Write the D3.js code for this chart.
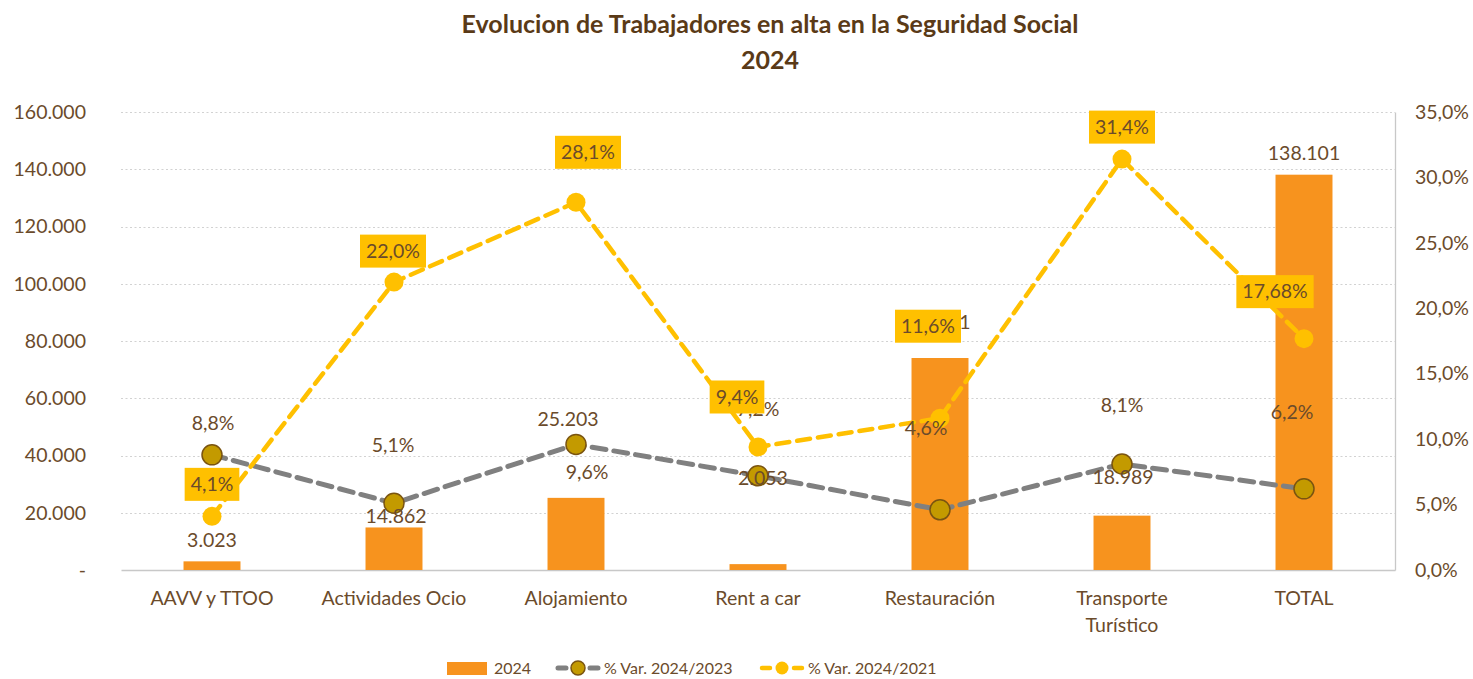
<!DOCTYPE html>
<html>
<head>
<meta charset="utf-8">
<script src="https://cdn.jsdelivr.net/npm/d3@7"></script>
<style>
  html, body { margin: 0; padding: 0; background: #ffffff; }
  svg { display: block; font-family: Lato, "Open Sans", sans-serif; }
</style>
</head>
<body>
<svg id="chart" width="1473" height="679"></svg>
<script>
// ---- data ----
const categories = ["AAVV y TTOO", "Actividades Ocio", "Alojamiento", "Rent a car", "Restauración", "Transporte Turístico", "TOTAL"];
const workers2024 = [3023, 14862, 25203, 2053, 74061, 18989, 138101];
const var2024_2023 = [0.088, 0.051, 0.096, 0.072, 0.046, 0.081, 0.062];
const var2024_2021 = [0.041, 0.220, 0.281, 0.094, 0.116, 0.314, 0.1768];
const var2024_2021Labels = ["4,1%", "22,0%", "28,1%", "9,4%", "11,6%", "31,4%", "17,68%"];
const leftTicks = [0, 20000, 40000, 60000, 80000, 100000, 120000, 140000, 160000];
const rightTicks = [0, 0.05, 0.10, 0.15, 0.20, 0.25, 0.30, 0.35];
const seriesNames = ["2024", "% Var. 2024/2023", "% Var. 2024/2021"];

// label placement (pixel offsets from each mark's anchor)
const barLabelOffset = [[0, -21], [2, -11], [-8, -79], [5, -86], [0, -36], [1, -38], [0, -22]];
const grayLabelOffset = [[1, -32], [-1, -58], [11, 28], [0, -67], [-14, -82], [0, -59], [-12, -77]];
const yellowLabelOffset = [[0, -32], [-1, -31], [12, -50], [-21, -50], [-12, -92], [0, -32], [-29, -47]];

// ---- styles ----
const textColor = "#6b4b2b";
const titleColor = "#5a3a17";
const barColor = "#f7931e";
const grayLine = "#808080";
const grayMarker = "#c39a00";
const grayMarkerStroke = "#7a5410";
const yellow = "#ffc000";

const svg = d3.select("#chart");
const plotLeft = 121, plotRight = 1395, plotTop = 112, plotBottom = 570;

const x = d3.scaleBand().domain(categories).range([plotLeft, plotRight]).padding(0);
const yL = d3.scaleLinear().domain([0, 160000]).range([plotBottom, plotTop]);
const yR = d3.scaleLinear().domain([0, 0.35]).range([plotBottom, plotTop]);
const cx = c => x(c) + x.bandwidth() / 2;
const barW = x.bandwidth() * 0.313;

const esLocale = d3.formatLocale({ decimal: ",", thousands: ".", grouping: [3], currency: ["", "€"] });
const fmtInt = v => v === 0 ? "-" : esLocale.format(",.0f")(v);
const fmtPct1 = v => esLocale.format(".1f")(v * 100) + "%";

// ---- title ----
const title = svg.append("g").attr("fill", titleColor).attr("font-weight", "700")
  .attr("font-size", 25).attr("text-anchor", "middle");
title.append("text").attr("x", 770).attr("y", 33).text("Evolucion de Trabajadores en alta en la Seguridad Social");
title.append("text").attr("x", 770).attr("y", 69).text("2024");

// ---- gridlines ----
svg.append("g").selectAll("line").data(leftTicks.filter(t => t > 0)).join("line")
  .attr("x1", plotLeft).attr("x2", plotRight)
  .attr("y1", d => Math.round(yL(d)) + 0.5).attr("y2", d => Math.round(yL(d)) + 0.5)
  .attr("stroke", "#d2d2d2").attr("stroke-width", 1.2).attr("stroke-dasharray", "2,2.5");

// ---- left axis ----
const axL = svg.append("g").attr("transform", `translate(${plotLeft},0)`)
  .call(d3.axisLeft(yL).tickValues(leftTicks).tickFormat(fmtInt).tickSize(0).tickPadding(35));
axL.select(".domain").remove();
axL.selectAll("text").attr("fill", textColor).attr("font-size", 19.5).attr("font-family", "Lato, sans-serif");

// ---- right axis ----
const axR = svg.append("g").attr("transform", `translate(${plotRight},0)`)
  .call(d3.axisRight(yR).tickValues(rightTicks).tickFormat(fmtPct1).tickSize(0).tickPadding(20));
axR.select(".domain").attr("stroke", "#c8c8c8").attr("stroke-width", 1.3);
axR.selectAll("text").attr("fill", textColor).attr("font-size", 19.5).attr("font-family", "Lato, sans-serif");

// ---- bottom axis ----
const axB = svg.append("g").attr("transform", `translate(0,${plotBottom})`)
  .call(d3.axisBottom(x).tickSize(0).tickPadding(0));
axB.select(".domain").attr("stroke", "#c8c8c8").attr("stroke-width", 1.3);
axB.selectAll(".tick text").each(function(d) {
  const t = d3.select(this).text(null).attr("fill", textColor).attr("font-size", 19.5)
    .attr("font-family", "Lato, sans-serif").attr("dy", null).attr("y", 0);
  const parts = d === "Transporte Turístico" ? ["Transporte", "Turístico"] : [d];
  parts.forEach((p, i) => t.append("tspan").attr("x", 0).attr("y", 35 + i * 27).text(p));
});

// ---- bars ----
svg.append("g").selectAll("rect").data(categories).join("rect")
  .attr("x", c => cx(c) - barW / 2)
  .attr("width", barW)
  .attr("y", (c, i) => yL(workers2024[i]))
  .attr("height", (c, i) => yL(0) - yL(workers2024[i]))
  .attr("fill", barColor);

// ---- lines ----
const lineGen = d3.line().x((d, i) => cx(categories[i])).y(d => yR(d));
svg.append("path").datum(var2024_2023).attr("d", lineGen)
  .attr("fill", "none").attr("stroke", grayLine).attr("stroke-width", 5)
  .attr("stroke-dasharray", "14,8").attr("stroke-linecap", "round");

svg.append("path").datum(var2024_2021).attr("d", lineGen)
  .attr("fill", "none").attr("stroke", yellow).attr("stroke-width", 4.5)
  .attr("stroke-dasharray", "13,8").attr("stroke-linecap", "round");

// ---- markers ----
svg.append("g").selectAll("circle").data(var2024_2023).join("circle")
  .attr("cx", (d, i) => cx(categories[i])).attr("cy", d => yR(d)).attr("r", 10)
  .attr("fill", grayMarker).attr("stroke", grayMarkerStroke).attr("stroke-width", 1.5);

svg.append("g").selectAll("circle").data(var2024_2021).join("circle")
  .attr("cx", (d, i) => cx(categories[i])).attr("cy", d => yR(d)).attr("r", 9.5)
  .attr("fill", yellow);

// ---- labels ----
const lblFont = 19.5;
svg.append("g").selectAll("text").data(workers2024).join("text")
  .attr("x", (d, i) => cx(categories[i]) + barLabelOffset[i][0])
  .attr("y", (d, i) => yL(d) + barLabelOffset[i][1])
  .attr("dy", "0.35em").attr("text-anchor", "middle")
  .attr("font-size", lblFont).attr("fill", textColor)
  .text(d => fmtInt(d));

svg.append("g").selectAll("text").data(var2024_2023).join("text")
  .attr("x", (d, i) => cx(categories[i]) + grayLabelOffset[i][0])
  .attr("y", (d, i) => yR(d) + grayLabelOffset[i][1])
  .attr("dy", "0.35em").attr("text-anchor", "middle")
  .attr("font-size", lblFont).attr("fill", textColor)
  .text(d => fmtPct1(d));

const yLbl = svg.append("g").selectAll("g").data(var2024_2021).join("g")
  .attr("transform", (d, i) => `translate(${cx(categories[i]) + yellowLabelOffset[i][0]},${yR(d) + yellowLabelOffset[i][1]})`);
yLbl.append("rect").attr("fill", yellow).attr("y", -16.5).attr("height", 33);
yLbl.append("text").attr("dy", "0.35em").attr("text-anchor", "middle")
  .attr("font-size", lblFont).attr("fill", textColor)
  .text((d, i) => var2024_2021Labels[i]);
yLbl.each(function() {
  const g = d3.select(this);
  const w = g.select("text").node().getComputedTextLength() + 12;
  g.select("rect").attr("x", -w / 2).attr("width", w);
});

// ---- legend ----
const leg = svg.append("g");
const ly = 668;
const legFont = 16;
leg.append("rect").attr("x", 447).attr("y", ly - 6).attr("width", 40).attr("height", 13).attr("fill", barColor);
leg.append("text").attr("x", 494).attr("y", ly).attr("dy", "0.35em").attr("font-size", legFont).attr("fill", textColor).text(seriesNames[0]);

leg.append("line").attr("x1", 558).attr("x2", 598).attr("y1", ly).attr("y2", ly)
  .attr("stroke", grayLine).attr("stroke-width", 5).attr("stroke-dasharray", "8,24").attr("stroke-linecap", "round");
leg.append("circle").attr("cx", 578).attr("cy", ly).attr("r", 7).attr("fill", grayMarker).attr("stroke", grayMarkerStroke).attr("stroke-width", 1.5);
leg.append("text").attr("x", 604).attr("y", ly).attr("dy", "0.35em").attr("font-size", legFont).attr("fill", textColor).text(seriesNames[1]);

leg.append("line").attr("x1", 762).attr("x2", 802).attr("y1", ly).attr("y2", ly)
  .attr("stroke", yellow).attr("stroke-width", 4.5).attr("stroke-dasharray", "8,24").attr("stroke-linecap", "round");
leg.append("circle").attr("cx", 782).attr("cy", ly).attr("r", 6.5).attr("fill", yellow);
leg.append("text").attr("x", 808).attr("y", ly).attr("dy", "0.35em").attr("font-size", legFont).attr("fill", textColor).text(seriesNames[2]);
</script>
</body>
</html>
